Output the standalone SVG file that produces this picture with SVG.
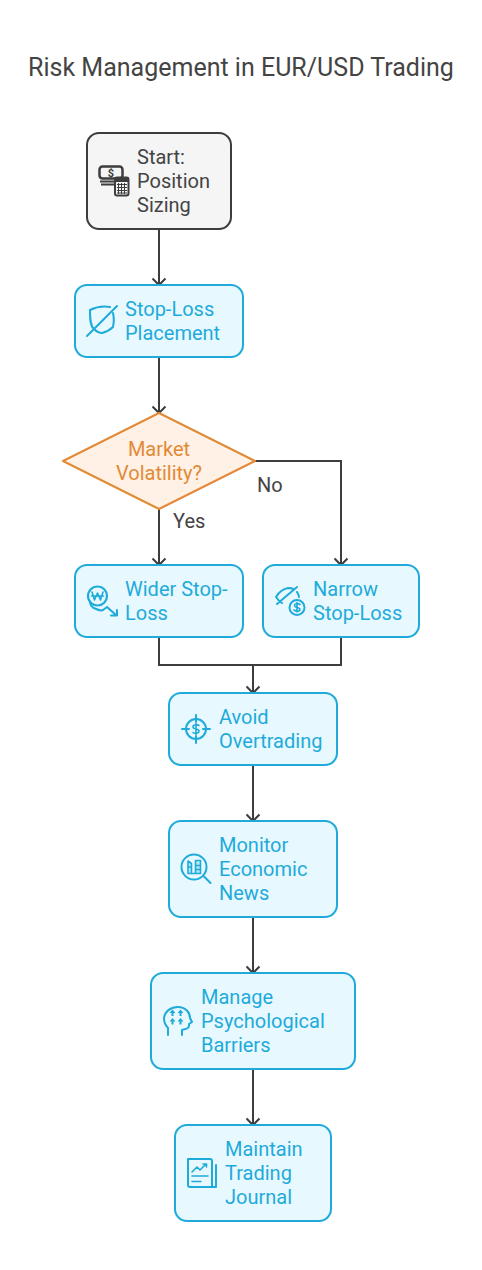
<svg xmlns="http://www.w3.org/2000/svg" width="482" height="1270" viewBox="0 0 482 1270">
<defs>
<marker id="arr" markerUnits="userSpaceOnUse" markerWidth="10" markerHeight="16" refX="8.500" refY="8" orient="auto" viewBox="0 0 10 16"><path d="M2 1.500 L8.500 8 L2 14.500" fill="none" stroke="#3d3d3d" stroke-width="2"/></marker>
</defs>
<style>
text{font-family:Roboto,"Liberation Sans",sans-serif;font-size:20px}
.title{font-size:25px;fill:#444444}
.box{stroke-width:2}
.blue .box{fill:#e8f8ff;stroke:#1eabda}
.blue text{fill:#1eabda}
.ic{fill:none;stroke:#1eabda;stroke-width:2;stroke-linecap:round;stroke-linejoin:round}
.ic .t{stroke-width:1.600}
.icf{fill:#1eabda;stroke:none}
.conn path{fill:none;stroke:#3d3d3d;stroke-width:2}
.lab{fill:#444444}
</style>
<rect width="482" height="1270" fill="#ffffff"/>
<text class="title" x="241" y="76" text-anchor="middle">Risk Management in EUR/USD Trading</text>
<g id="connectors" class="conn">
<path d="M159 229V285" marker-end="url(#arr)"/>
<path d="M159 357V413" marker-end="url(#arr)"/>
<path d="M159 509V565" marker-end="url(#arr)"/>
<path d="M255 461H341V565" marker-end="url(#arr)"/>
<path d="M159 637V665H253V693" marker-end="url(#arr)"/>
<path d="M341 637V665H253"/>
<path d="M253 765V821" marker-end="url(#arr)"/>
<path d="M253 917V973" marker-end="url(#arr)"/>
<path d="M253 1069V1125" marker-end="url(#arr)"/>
</g>
<text class="lab" x="173" y="528">Yes</text>
<text class="lab" x="257" y="492">No</text>
<g id="start">
<rect x="87" y="133" width="144" height="96" rx="12" fill="#f5f5f5" stroke="#3d3d3d" stroke-width="2"/>
<g fill="none" stroke="#3d3d3d" stroke-linejoin="round">
<rect x="99.500" y="166.500" width="23" height="12" rx="3" stroke-width="2.500"/>
<path d="M100 181.500H114M101 184.500H114" stroke-width="1.800"/>
<rect x="115" y="177.500" width="13.500" height="18" rx="2" fill="#f5f5f5" stroke-width="2"/>
</g>
<path d="M115 177.500h13.500v4.500h-13.500z" fill="#3d3d3d"/>
<path d="M117 184.500h10M117 187.500h10M117 190.500h10M117 193h10M118.500 183v11M121.500 183v11M124.500 183v11" stroke="#3d3d3d" stroke-width="1" fill="none"/>
<text x="111" y="176.500" text-anchor="middle" font-weight="700" fill="#3d3d3d" style="font-size:11px">$</text>
<g fill="#444444"><text x="137" y="164">Start:</text><text x="137" y="188">Position</text><text x="137" y="212">Sizing</text></g>
</g>
<g id="stop-loss" class="blue">
<rect class="box" x="75" y="285" width="168" height="72" rx="12"/>
<g class="ic"><path d="M110 307C104 306 96 307 90 310C90 318 90 326 94 329C97 332 100 333 102 333C106 332 110 330 113 327C114 322 114 317 113 313M87 336L117 306"/></g>
<text x="125" y="316">Stop-Loss</text><text x="125" y="340">Placement</text>
</g>
<g id="volatility">
<path d="M159 413L255 461L159 509L63 461Z" fill="#fff1e5" stroke="#e28a35" stroke-width="2" stroke-linejoin="round"/>
<g fill="#e28a35" text-anchor="middle"><text x="159" y="456">Market</text><text x="159" y="480">Volatility?</text></g>
</g>
<g id="wider" class="blue">
<rect class="box" x="75" y="565" width="168" height="72" rx="12"/>
<g class="ic"><circle cx="97.500" cy="596" r="9.500" stroke-width="2.200"/><path d="M90 603C91 606 93 608 95 608.500C98 610 101 611 103 610L107 607L116 615M117 610V615.500H111"/><path class="t" d="M92 592L94.500 600L97.500 593L100.500 600L103 592M91.500 596H103.500" stroke-width="1.800"/></g>
<text x="125" y="596">Wider Stop-</text><text x="125" y="620">Loss</text>
</g>
<g id="narrow" class="blue">
<rect class="box" x="263" y="565" width="156" height="72" rx="12"/>
<g class="ic"><path d="M276 597C279 592 283 589 288 588C290 588 292 588 293 589M297 592C298 594 299 595 299 597M276 597C278 600 280 602 282 603M277 604L297 587"/><circle cx="297" cy="607.500" r="7.500"/><path class="t" d="M300 604.500C298 603 294.500 603.500 294.500 605.500C294.500 608 300 607 300 609.500C300 611.500 296 611.500 294 610M297 602.500V612"/></g>
<text x="313" y="596">Narrow</text><text x="313" y="620">Stop-Loss</text>
</g>
<g id="avoid" class="blue">
<rect class="box" x="169" y="693" width="168" height="72" rx="12"/>
<g class="ic"><circle cx="196" cy="729" r="10"/><path d="M196 715V722M196 736V743M182 729H189M203 729H210"/><path class="t" d="M199 725.500C197.500 724 193 724.500 193 727C193 729.800 199 728.300 199 731C199 733.500 194.500 734 193 732.500M196 723.500V734.500" stroke-width="1.800"/></g>
<text x="219" y="724">Avoid</text><text x="219" y="748">Overtrading</text>
</g>
<g id="monitor" class="blue">
<rect class="box" x="169" y="821" width="168" height="96" rx="12"/>
<g class="ic"><circle cx="194" cy="867" r="12.500"/><path d="M204 876.500L210.500 883"/><path class="t" d="M188 873.500V861L191.500 863.500V873.500ZM191.500 873.500H200.500V860.500H195.500V873.500M188 867H191.500M195.500 865.500H200.500M195.500 869.500H200.500" fill="#1eabda" fill-opacity="0.25"/></g>
<text x="219" y="852">Monitor</text><text x="219" y="876">Economic</text><text x="219" y="900">News</text>
</g>
<g id="psych" class="blue">
<rect class="box" x="151" y="973" width="204" height="96" rx="12"/>
<g class="ic"><path d="M168 1035V1028C165 1025 164 1022 164 1018C165 1011 171 1007 178 1007C185 1007 190 1012 190 1018L192 1022L189 1024V1026C189 1028 187 1029 182 1030V1035"/></g>
<g class="icf"><path d="M172.500 1009.500l3 3.500h-2v3h-2v-3h-2zM180.500 1009.500l3 3.500h-2v3h-2v-3h-2zM172.500 1018l3 3.500h-2v3h-2v-3h-2zM180.500 1018l3 3.500h-2v3h-2v-3h-2z"/></g>
<text x="201" y="1004">Manage</text><text x="201" y="1028">Psychological</text><text x="201" y="1052">Barriers</text>
</g>
<g id="journal" class="blue">
<rect class="box" x="175" y="1125" width="156" height="96" rx="12"/>
<g class="ic"><path d="M188 1159H210C211 1159 212 1160 212 1161V1187H190C188.500 1187 188 1186 188 1185ZM212 1187H216V1165"/><path d="M192 1172L197 1167L200 1170L206 1164M203 1164H206.500V1167" stroke-width="1.600"/><path d="M192 1176H208M192 1181.500H201" stroke-width="1.600"/></g>
<text x="225" y="1156">Maintain</text><text x="225" y="1180">Trading</text><text x="225" y="1204">Journal</text>
</g>
</svg>
